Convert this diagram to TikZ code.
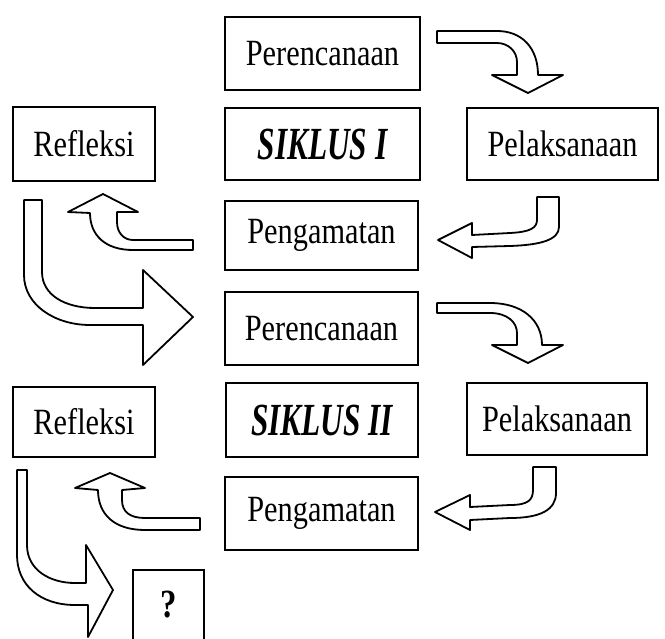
\documentclass[tikz,border=0pt]{standalone}
\usepackage{fontspec}
\setmainfont{Liberation Serif}[FakeStretch=0.82]
\newfontfamily\siklusfont{Liberation Serif}[FakeStretch=0.68]
\begin{document}
\begin{tikzpicture}[x=1pt,y=-1pt,
  box/.style={draw, line width=2pt, inner sep=0pt, fill=white,
    font=\fontsize{37}{40}\selectfont},
  cyclebox/.style={box, font=\siklusfont\fontsize{46}{48}\selectfont\bfseries\itshape},
  blockarrow/.style={draw, line width=1.8pt, fill=white, line join=round}]
\useasboundingbox (0,0) rectangle (665,639);

% --- cycle I ---
\node[box, minimum width=195pt, minimum height=73pt] (per1) at (322.5,53.5) {Perencanaan};
\node[cyclebox, minimum width=195pt, minimum height=72pt] (sik1) at (322.5,144) {SIKLUS I};
\node[box, minimum width=142pt, minimum height=74pt] (ref1) at (84,144) {Refleksi};
\node[box, minimum width=191pt, minimum height=72pt] (pel1) at (562.5,144) {Pelaksanaan};
\node[box, minimum width=193pt, minimum height=69pt] (pen1) at (321.5,235.5) {Pengamatan};

% --- cycle II ---
\node[box, minimum width=193pt, minimum height=73pt] (per2) at (321.5,328.5) {Perencanaan};
\node[cyclebox, minimum width=192pt, minimum height=74pt] (sik2) at (322,420) {SIKLUS II};
\node[box, minimum width=142pt, minimum height=70pt] (ref2) at (84,422) {Refleksi};
\node[box, minimum width=180pt, minimum height=72pt] (pel2) at (557,419) {Pelaksanaan};
\node[box, minimum width=193pt, minimum height=73pt] (pen2) at (321.5,513.5) {Pengamatan};

% --- next cycle ---
\node[box, minimum width=71pt, minimum height=76pt, font=\fontsize{40}{42}\selectfont\bfseries] (nxt) at (168.5,608) {\raisebox{8pt}{?}};

% --- block arrows ---
% planning -> action
\draw[blockarrow] (437,31) -- (497,31) .. controls (522,31) and (538,48) .. (538,75)
  -- (563,75) -- (528,93) -- (492,75) -- (517,75) -- (517,62)
  .. controls (517,51) and (508,43) .. (497,43) -- (437,43) -- cycle;
% action -> observation
\draw[blockarrow] (537,197) -- (559,197) -- (559,227) .. controls (559,240) and (540,245) .. (510,246)
  -- (472,247) -- (472,258) -- (438,240) -- (472,223) -- (472,235)
  -- (510,233) .. controls (530,232) and (537,228) .. (537,220) -- cycle;
% observation -> reflection
\draw[blockarrow] (193,240) -- (193,250) -- (133,250) .. controls (105,250) and (90,235) .. (90,213)
  -- (68,212) -- (103,194) -- (138,212) -- (117,212) -- (117,222)
  .. controls (117,233) and (124,240) .. (133,240) -- cycle;
% reflection -> planning (cycle II)
\draw[blockarrow] (24,200) -- (42,200) -- (42,272) .. controls (42,295) and (65,308) .. (95,308)
  -- (143,308) -- (143,270) -- (193,317) -- (143,365) -- (143,325) -- (90,325)
  .. controls (55,325) and (24,305) .. (24,275) -- cycle;
% planning -> action (cycle II)
\draw[blockarrow] (437,303) -- (490,303) .. controls (522,303) and (542,320) .. (542,345)
  -- (563,345) -- (528,363) -- (492,345) -- (517,345) -- (517,333)
  .. controls (517,322) and (507,313) .. (490,313) -- (437,313) -- cycle;
% action -> observation (cycle II)
\draw[blockarrow] (533,467) -- (556,467) -- (556,493) .. controls (556,510) and (540,518) .. (510,518)
  -- (470,520) -- (470,530) -- (435,512) -- (470,495) -- (470,507)
  -- (510,505) .. controls (528,505) and (533,500) .. (533,490) -- cycle;
% observation -> reflection (cycle II)
\draw[blockarrow] (200,518) -- (200,530) -- (145,530) .. controls (115,530) and (98,515) .. (98,490)
  -- (75,488) -- (110,473) -- (145,488) -- (122,490) -- (122,500)
  .. controls (122,512) and (130,518) .. (145,518) -- cycle;
% reflection -> next cycle
\draw[blockarrow] (17,470) -- (27,470) -- (27,545) .. controls (27,570) and (50,583) .. (75,583)
  -- (86,583) -- (86,545) -- (113,590) -- (88,637) -- (88,605) -- (75,605)
  .. controls (40,605) and (17,585) .. (17,555) -- cycle;
\end{tikzpicture}
\end{document}
